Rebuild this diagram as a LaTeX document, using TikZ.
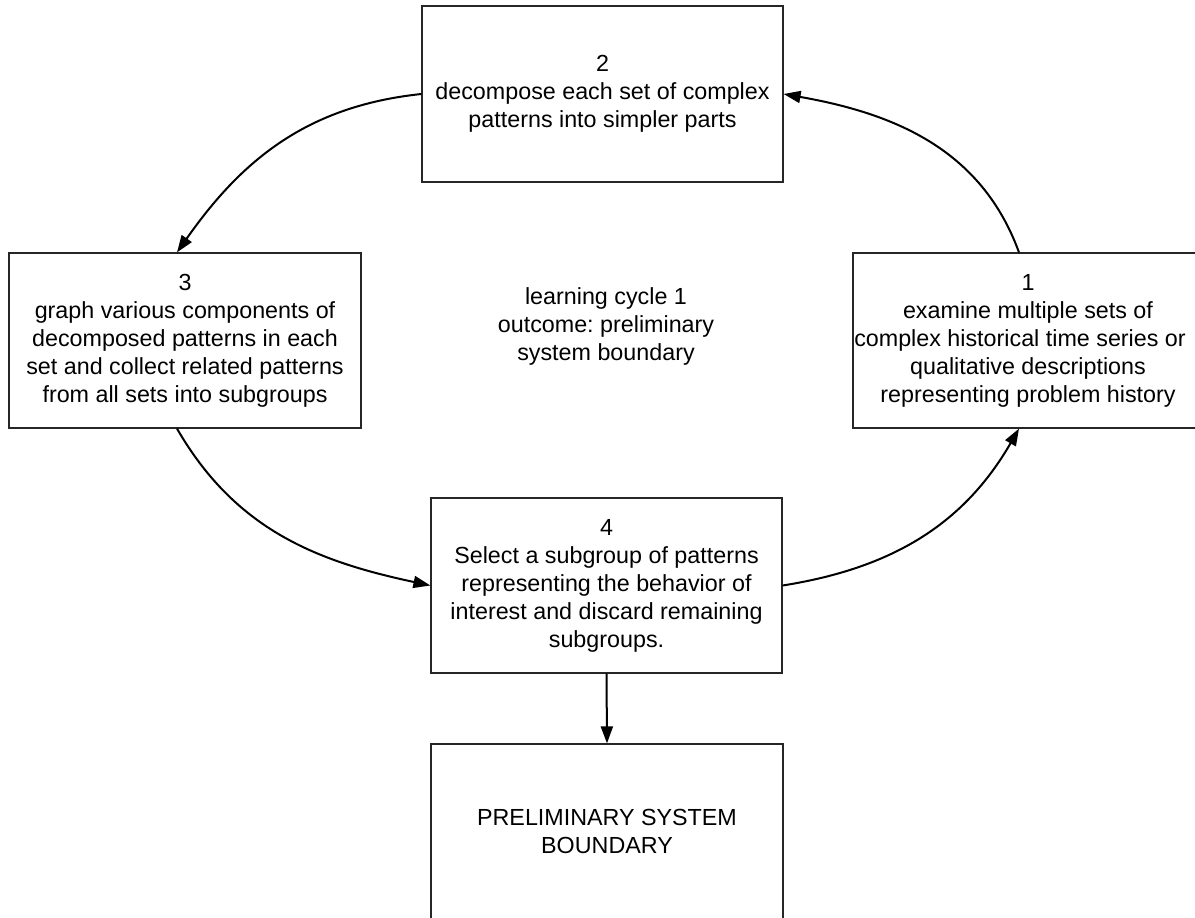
\documentclass[tikz,border=0pt]{standalone}
\usepackage{fontspec}
\setmainfont{Liberation Sans}
\usetikzlibrary{arrows.meta}
\frenchspacing

\begin{document}
\begin{tikzpicture}[x=1pt,y=1pt,
  box/.style={draw=black!85, line width=1.2pt, align=center, inner sep=0pt,
    minimum width=#1, font=\fontsize{23.3}{28}\selectfont},
  box/.default=352pt,
  plain/.style={align=center, font=\fontsize{23.3}{28}\selectfont},
  flow/.style={line width=2pt, -{Triangle[length=17pt,width=12pt]}}
]
\useasboundingbox (0,0) rectangle (1195,-918);
\clip (0,0) rectangle (1195,-918);

% process steps of the cycle
\node[box=361pt, minimum height=176pt] (b2) at (602.5,-94)
  {2\\decompose each set of complex\\patterns into simpler parts};
\node[box=352pt, minimum height=175pt] (b3) at (185,-340.5)
  {3\\graph various components of\\decomposed patterns in each\\set and collect related patterns\\from all sets into subgroups};
\node[box=350pt, minimum height=175pt] (b1) at (1028,-340.5)
  {1\\examine multiple sets of\\complex historical time series or\hbox to 16pt{}\\qualitative descriptions\\representing problem history};
\node[box=351pt, minimum height=175pt] (b4) at (606.5,-585.5)
  {4\\Select a subgroup of patterns\\representing the behavior of\\interest and discard remaining\\subgroups.};
\node[box=352pt, minimum height=175pt] (b5) at (607,-831.5)
  {PRELIMINARY SYSTEM\\BOUNDARY};

% label in the middle of the cycle
\node[plain] (lbl) at (606,-326)
  {learning cycle 1\\outcome: preliminary\\system boundary};

% cycle connectors
\draw[flow] ([xshift=-9pt]b1.north) to[out=110,in=-10] (b2.east);
\draw[flow] (b2.west) to[out=186,in=55] ([xshift=-8pt]b3.north);
\draw[flow] ([xshift=-8pt]b3.south) to[out=-60,in=168] (b4.west);
\draw[flow] (b4.east) to[out=9,in=-120] ([xshift=-9pt]b1.south);
\draw[flow] (b4.south) -- (b5.north);
\end{tikzpicture}
\end{document}
